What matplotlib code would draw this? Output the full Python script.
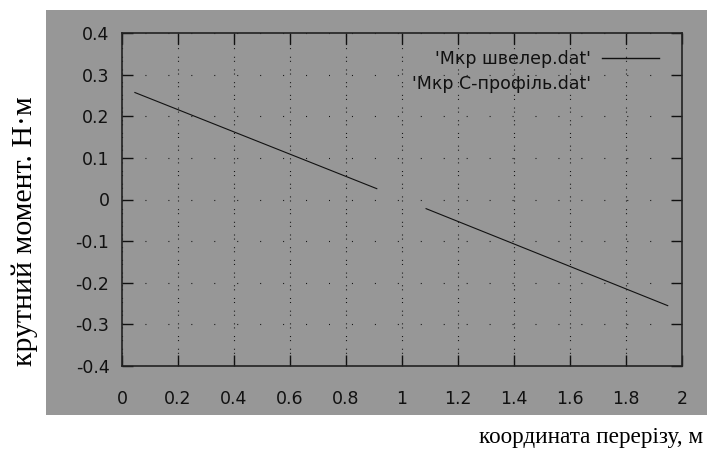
import matplotlib
matplotlib.use("Agg")
import matplotlib.pyplot as plt
from matplotlib.lines import Line2D
from matplotlib.patches import Rectangle

# Data
x_shveler = [0.046, 0.91]
y_shveler = [0.257, 0.026]
x_cprofil = [1.086, 1.949]
y_cprofil = [-0.022, -0.255]

x_ticks = [0, 0.2, 0.4, 0.6, 0.8, 1, 1.2, 1.4, 1.6, 1.8, 2]
x_ticklabels = ["0", "0.2", "0.4", "0.6", "0.8", "1", "1.2", "1.4", "1.6", "1.8", "2"]
y_ticks = [-0.4, -0.3, -0.2, -0.1, 0, 0.1, 0.2, 0.3, 0.4]
y_ticklabels = ["-0.4", "-0.3", "-0.2", "-0.1", "0", "0.1", "0.2", "0.3", "0.4"]

label1 = "'Мкр швелер.dat'"
label2 = "'Мкр С-профіль.dat'"
xlabel = "координата перерізу, м"
ylabel = "крутний момент. Н·м"

plt.rcParams["lines.scale_dashes"] = False
plt.rcParams["font.family"] = ["DejaVu Sans"]

W, H = 707, 451
fig = plt.figure(figsize=(W / 100, H / 100), dpi=100)
fig.patch.set_facecolor("white")

gray = "#979797"
# gray panel behind the plot
fig.patches.append(Rectangle((46 / W, 1 - 415 / H), (W - 46) / W, (415 - 10) / H,
                             transform=fig.transFigure, facecolor=gray,
                             edgecolor="none", zorder=-5))

ax = fig.add_axes([122 / W, 1 - 366 / H, (682 - 122) / W, (366 - 33) / H])
ax.set_zorder(2)
ax.set_facecolor(gray)

ax.plot(x_shveler, y_shveler, color="#111111", lw=0.8, zorder=3)
ax.plot(x_cprofil, y_cprofil, color="#111111", lw=0.8, zorder=3)

ax.set_xlim(0, 2)
ax.set_ylim(-0.4, 0.4)
ax.set_xticks(x_ticks)
ax.set_xticklabels(x_ticklabels)
ax.set_yticks(y_ticks)
ax.set_yticklabels(y_ticklabels)

ax.tick_params(axis="both", direction="in", top=True, right=True,
               length=7.9, width=1.0, color="#111111", labelsize=12.5,
               labelcolor="#111111")
ax.tick_params(axis="x", pad=17)
ax.tick_params(axis="y", pad=9)

for s in ax.spines.values():
    s.set_linewidth(1.2)
    s.set_color("#222222")

# grid
ax.xaxis.grid(True, color="#111111", lw=0.8, linestyle=(0, (0.72, 2.2, 0.72, 5.5)))
ax.yaxis.grid(True, color="#111111", lw=0.8, linestyle=(0, (0.72, 15.8)))
ax.set_axisbelow(True)

h1 = Line2D([], [], color="#111111", lw=1.0)
h2 = Line2D([], [], linestyle="none")
leg = ax.legend([h1, h2], [label1, label2], loc="upper right",
                bbox_to_anchor=((659 - 122) / 560, (366 - 50) / 333),
                frameon=False, markerfirst=False, fontsize=12.5,
                handlelength=3.3, handletextpad=0.6, labelspacing=0.4,
                borderpad=0, borderaxespad=0)
for t in leg.get_texts():
    t.set_ha("right")
    t.set_color("#111111")

fig.text(703 / W, 1 - 437 / H, xlabel, ha="right", va="center",
         family="Liberation Serif", fontsize=16.7)
fig.text(25 / W, 1 - 231 / H, ylabel, ha="center", va="center", rotation=90,
         family="Liberation Serif", fontsize=21.5)

fig.savefig("out.png", dpi=100, facecolor="white")
